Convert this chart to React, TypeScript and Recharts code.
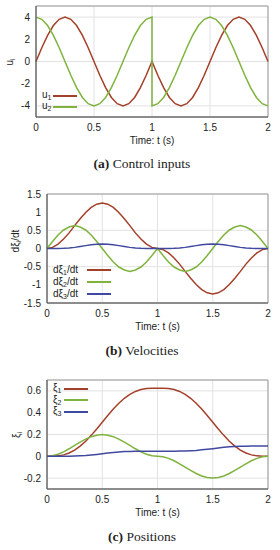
import { LineChart, Line, XAxis, YAxis, CartesianGrid, ReferenceArea, Legend } from 'recharts'
import type { ReactNode } from 'react'

const FONT = '"Liberation Sans", Arial, sans-serif'
const RED = '#a3402a'
const GREEN = '#7fb33e'
const BLUE = '#4048a0'

// time samples (s)
const time = [
  0, 0.05, 0.1, 0.15, 0.2, 0.25, 0.3, 0.35, 0.4, 0.45, 0.5, 0.55, 0.6, 0.65, 0.7, 0.75, 0.8, 0.85, 0.9, 0.95, 1,
  1.05, 1.1, 1.15, 1.2, 1.25, 1.3, 1.35, 1.4, 1.45, 1.5, 1.55, 1.6, 1.65, 1.7, 1.75, 1.8, 1.85, 1.9, 1.95, 2,
]
// control inputs: t = 1 is listed twice because u2 jumps there
const timeU = [...time.slice(0, 21), 1, ...time.slice(21)]

const u1 = [
  0, 1.24, 2.35, 3.24, 3.8, 4, 3.8, 3.24, 2.35, 1.24, 0, -1.24, -2.35, -3.24, -3.8, -4, -3.8, -3.24, -2.35, -1.24, 0,
  0, -1.24, -2.35, -3.24, -3.8, -4, -3.8, -3.24, -2.35, -1.24, 0, 1.24, 2.35, 3.24, 3.8, 4, 3.8, 3.24, 2.35, 1.24, 0,
]
const u2 = [
  4, 3.8, 3.24, 2.35, 1.24, 0, -1.24, -2.35, -3.24, -3.8, -4, -3.8, -3.24, -2.35, -1.24, 0, 1.24, 2.35, 3.24, 3.8, 4,
  -4, -3.8, -3.24, -2.35, -1.24, 0, 1.24, 2.35, 3.24, 3.8, 4, 3.8, 3.24, 2.35, 1.24, 0, -1.24, -2.35, -3.24, -3.8, -4,
]

const dxi1 = [
  0, 0.03, 0.12, 0.26, 0.43, 0.63, 0.82, 0.99, 1.13, 1.22, 1.25, 1.22, 1.13, 0.99, 0.82, 0.63, 0.43, 0.26, 0.12, 0.03, 0,
  -0.03, -0.12, -0.26, -0.43, -0.63, -0.82, -0.99, -1.13, -1.22, -1.25, -1.22, -1.13, -0.99, -0.82, -0.63, -0.43, -0.26, -0.12, -0.03, 0,
]
const dxi2 = [
  0, 0.19, 0.37, 0.51, 0.59, 0.63, 0.59, 0.51, 0.37, 0.19, 0, -0.19, -0.37, -0.51, -0.59, -0.63, -0.59, -0.51, -0.37, -0.19, 0,
  -0.19, -0.37, -0.51, -0.59, -0.63, -0.59, -0.51, -0.37, -0.19, 0, 0.19, 0.37, 0.51, 0.59, 0.63, 0.59, 0.51, 0.37, 0.19, 0,
]
const dxi3 = [
  0, 0, 0.001, 0.005, 0.015, 0.031, 0.054, 0.079, 0.102, 0.119, 0.125, 0.119, 0.102, 0.079, 0.054, 0.031, 0.015, 0.005, 0.001, 0, 0,
  0, 0.001, 0.005, 0.015, 0.031, 0.054, 0.079, 0.102, 0.119, 0.125, 0.119, 0.102, 0.079, 0.054, 0.031, 0.015, 0.005, 0.001, 0, 0,
]

const xi1 = [
  0, 0.001, 0.004, 0.013, 0.03, 0.057, 0.093, 0.138, 0.192, 0.251, 0.313, 0.374, 0.434, 0.487, 0.532, 0.568, 0.595, 0.612, 0.621, 0.624, 0.625,
  0.624, 0.621, 0.612, 0.595, 0.568, 0.532, 0.487, 0.434, 0.374, 0.313, 0.251, 0.192, 0.138, 0.093, 0.057, 0.03, 0.013, 0.004, 0.001, 0,
]
const xi2 = [
  0, 0.005, 0.019, 0.041, 0.069, 0.1, 0.13, 0.158, 0.18, 0.194, 0.199, 0.194, 0.18, 0.158, 0.13, 0.1, 0.069, 0.041, 0.019, 0.005, 0,
  -0.005, -0.019, -0.041, -0.069, -0.1, -0.13, -0.158, -0.18, -0.194, -0.199, -0.194, -0.18, -0.158, -0.13, -0.1, -0.069, -0.041, -0.019, -0.005, 0,
]
const xi3 = [
  0, 0, 0, 0, 0.001, 0.002, 0.004, 0.007, 0.012, 0.017, 0.023, 0.03, 0.035, 0.04, 0.043, 0.045, 0.046, 0.047, 0.047, 0.047, 0.047,
  0.047, 0.047, 0.047, 0.048, 0.049, 0.051, 0.054, 0.059, 0.064, 0.07, 0.077, 0.082, 0.087, 0.09, 0.092, 0.093, 0.094, 0.094, 0.094, 0.094,
]

const xTicks = [0, 0.5, 1, 1.5, 2]
const uTicks = [-4, -2, 0, 2, 4]
const velTicks = [-1.5, -1, -0.5, 0, 0.5, 1, 1.5]
const posTicks = [-0.2, 0, 0.2, 0.4, 0.6]

const inputRows = timeU.map((t, i) => ({ t, u1: u1[i], u2: u2[i] }))
const velRows = time.map((t, i) => ({ t, dxi1: dxi1[i], dxi2: dxi2[i], dxi3: dxi3[i] }))
const posRows = time.map((t, i) => ({ t, xi1: xi1[i], xi2: xi2[i], xi3: xi3[i] }))

const tick = { fontSize: 10, fill: '#222', fontFamily: FONT }
const axisLine = { stroke: '#555' }

function YTitle({ px, py, children }: { px: number; py: number; children: ReactNode }) {
  return (
    <text
      x={px}
      y={py}
      transform={`rotate(-90 ${px} ${py})`}
      textAnchor="middle"
      dominantBaseline="central"
      fontSize={10}
      fontFamily={FONT}
      fill="#222"
    >
      {children}
    </text>
  )
}

function LegendRows({ payload, labels, textWidth, rowHeight }: any) {
  return (
    <div style={{ fontFamily: FONT, fontSize: 10, color: '#222', lineHeight: 1 }}>
      {(payload || []).map((p: any) => (
        <div key={p.value} style={{ display: 'flex', alignItems: 'center', height: rowHeight }}>
          <span style={{ width: textWidth, whiteSpace: 'nowrap' }}>{labels[p.value]}</span>
          <span style={{ width: 24, height: 0, borderTop: `2px solid ${p.color}` }} />
        </div>
      ))}
    </div>
  )
}

const sub = { fontSize: 7, verticalAlign: -2 }

const inputLabels: Record<string, ReactNode> = {
  u1: <>u<span style={sub}>1</span></>,
  u2: <>u<span style={sub}>2</span></>,
}
const velLabels: Record<string, ReactNode> = {
  dxi1: <>dξ<span style={sub}>1</span>/dt</>,
  dxi2: <>dξ<span style={sub}>2</span>/dt</>,
  dxi3: <>dξ<span style={sub}>3</span>/dt</>,
}
const posLabels: Record<string, ReactNode> = {
  xi1: <>ξ<span style={sub}>1</span></>,
  xi2: <>ξ<span style={sub}>2</span></>,
  xi3: <>ξ<span style={sub}>3</span></>,
}

function Caption({ top, tag, text }: { top: number; tag: string; text: string }) {
  return (
    <div
      style={{
        position: 'absolute',
        top: top - 9,
        left: 0,
        width: 284,
        textAlign: 'center',
        fontFamily: '"Liberation Serif", "DejaVu Serif", serif',
        fontSize: 13.5,
        lineHeight: '18px',
        color: '#222',
      }}
    >
      <b>({tag})</b> {text}
    </div>
  )
}

const xAxisProps = {
  dataKey: 't',
  type: 'number' as const,
  domain: [0, 2],
  ticks: xTicks,
  tick,
  tickSize: 0,
  tickMargin: 7,
  axisLine,
  height: 28,
  label: { value: 'Time: t (s)', position: 'insideBottom' as const, offset: 1, fontSize: 10, fill: '#222', fontFamily: FONT },
}

export default function App() {
  return (
    <div style={{ position: 'absolute', top: 0, left: 0, width: 280, height: 550, background: '#fff' }}>
      <div style={{ position: 'absolute', top: 0, left: 0 }}>
        <LineChart width={280} height={150} data={inputRows} margin={{ top: 6, right: 12, left: 10, bottom: 5 }}>
          <CartesianGrid stroke="#e2e2e2" />
          <ReferenceArea x1={0} x2={2} y1={-5} y2={5} fill="none" stroke="#9a9a9a" />
          <XAxis {...xAxisProps} />
          <YAxis
            type="number"
            domain={[-5, 5]}
            ticks={uTicks}
            tick={tick}
            tickSize={0}
            tickMargin={6}
            axisLine={axisLine}
            width={26}
            label={<YTitle px={9} py={62}>u<tspan fontSize={7} dy={3}>i</tspan></YTitle>}
          />
          <Legend
            layout="vertical"
            align="center"
            verticalAlign="middle"
            wrapperStyle={{ left: 42, top: 90, width: 60 }}
            content={(props: any) => <LegendRows {...props} labels={inputLabels} textWidth={11} rowHeight={11} />}
          />
          <Line dataKey="u1" name="u1" stroke={RED} strokeWidth={1.5} dot={false} type="linear" isAnimationActive={false} />
          <Line dataKey="u2" name="u2" stroke={GREEN} strokeWidth={1.5} dot={false} type="linear" isAnimationActive={false} />
        </LineChart>
      </div>
      <Caption top={164} tag="a" text="Control inputs" />

      <div style={{ position: 'absolute', top: 185, left: 0 }}>
        <LineChart width={280} height={150} data={velRows} margin={{ top: 9, right: 12, left: 10, bottom: 4 }}>
          <CartesianGrid stroke="#e2e2e2" />
          <ReferenceArea x1={0} x2={2} y1={-1.5} y2={1.5} fill="none" stroke="#9a9a9a" />
          <XAxis {...xAxisProps} />
          <YAxis
            type="number"
            domain={[-1.5, 1.5]}
            ticks={velTicks}
            tick={tick}
            tickSize={0}
            tickMargin={6}
            axisLine={axisLine}
            width={37}
            label={<YTitle px={15} py={56}>dξ<tspan fontSize={7} dy={3}>i</tspan><tspan dy={-3}>/dt</tspan></YTitle>}
          />
          <Legend
            layout="vertical"
            align="center"
            verticalAlign="middle"
            wrapperStyle={{ left: 53, top: 79, width: 70 }}
            content={(props: any) => <LegendRows {...props} labels={velLabels} textWidth={34} rowHeight={12.2} />}
          />
          <Line dataKey="dxi1" name="dxi1" stroke={RED} strokeWidth={1.5} dot={false} type="linear" isAnimationActive={false} />
          <Line dataKey="dxi2" name="dxi2" stroke={GREEN} strokeWidth={1.5} dot={false} type="linear" isAnimationActive={false} />
          <Line dataKey="dxi3" name="dxi3" stroke={BLUE} strokeWidth={1.5} dot={false} type="linear" isAnimationActive={false} />
        </LineChart>
      </div>
      <Caption top={351} tag="b" text="Velocities" />

      <div style={{ position: 'absolute', top: 370, left: 0 }}>
        <LineChart width={280} height={150} data={posRows} margin={{ top: 10, right: 12, left: 10, bottom: 3 }}>
          <CartesianGrid stroke="#e2e2e2" />
          <ReferenceArea x1={0} x2={2} y1={-0.3} y2={0.7} fill="none" stroke="#9a9a9a" />
          <XAxis {...xAxisProps} />
          <YAxis
            type="number"
            domain={[-0.3, 0.7]}
            ticks={posTicks}
            tick={tick}
            tickSize={0}
            tickMargin={6}
            axisLine={axisLine}
            width={37}
            label={<YTitle px={16} py={65}>ξ<tspan fontSize={7} dy={3}>i</tspan></YTitle>}
          />
          <Legend
            layout="vertical"
            align="center"
            verticalAlign="middle"
            wrapperStyle={{ left: 53, top: 13, width: 50 }}
            content={(props: any) => <LegendRows {...props} labels={posLabels} textWidth={11} rowHeight={11.5} />}
          />
          <Line dataKey="xi1" name="xi1" stroke={RED} strokeWidth={1.5} dot={false} type="linear" isAnimationActive={false} />
          <Line dataKey="xi2" name="xi2" stroke={GREEN} strokeWidth={1.5} dot={false} type="linear" isAnimationActive={false} />
          <Line dataKey="xi3" name="xi3" stroke={BLUE} strokeWidth={1.5} dot={false} type="linear" isAnimationActive={false} />
        </LineChart>
      </div>
      <Caption top={537} tag="c" text="Positions" />
    </div>
  )
}
